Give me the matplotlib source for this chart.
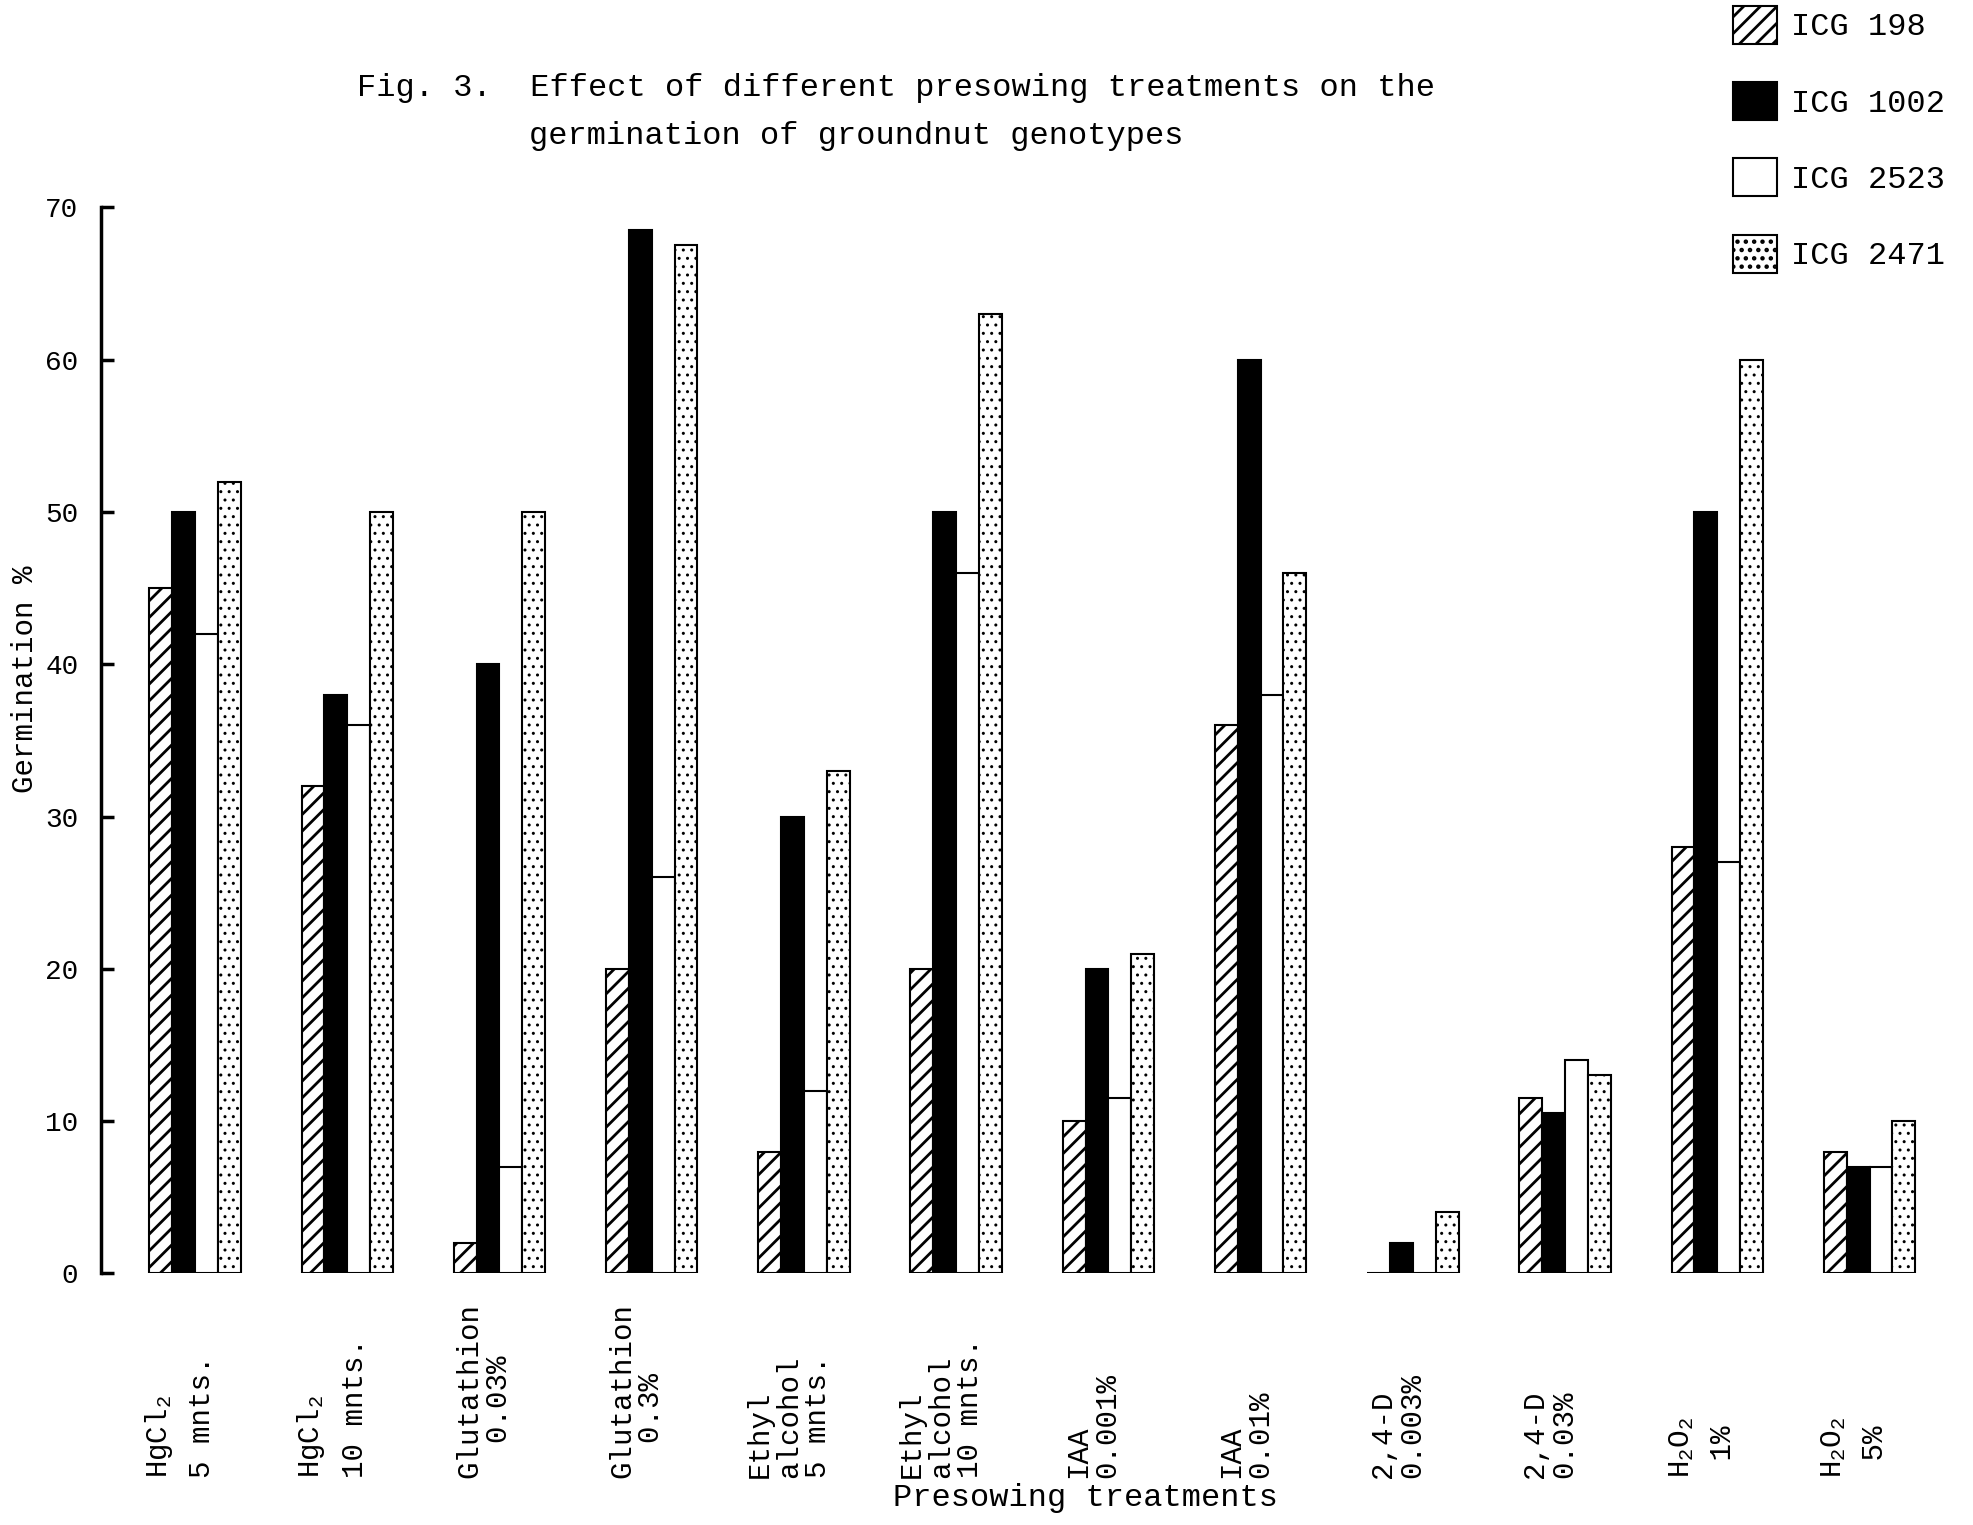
import numpy as np
import matplotlib
matplotlib.use("Agg")
from matplotlib import pyplot as plt
import matplotlib.transforms as mtransforms

plt.rcParams['font.family'] = ['Liberation Mono', 'DejaVu Sans Mono']
plt.rcParams['mathtext.fontset'] = 'custom'
plt.rcParams['mathtext.rm'] = 'Liberation Mono'
plt.rcParams['mathtext.it'] = 'Liberation Mono'
plt.rcParams['mathtext.default'] = 'regular'
plt.rcParams['hatch.linewidth'] = 2.0

# presowing treatments (x labels, as typed under the bars)
treatments = [
    "HgCl$_2$\n5 mnts.",
    "HgCl$_2$\n10 mnts.",
    "Glutathion\n  0.03%",
    "Glutathion\n  0.3%",
    "Ethyl\nalcohol\n5 mnts.",
    "Ethyl\nalcohol\n10 mnts.",
    "IAA\n0.001%",
    "IAA\n0.01%",
    "2,4-D\n0.003%",
    "2,4-D\n0.03%",
    "H$_2$O$_2$\n 1%",
    "H$_2$O$_2$\n 5%",
]

# germination % per genotype
icg198 = [45, 32, 2, 20, 8, 20, 10, 36, 0, 11.5, 28, 8]
icg1002 = [50, 38, 40, 68.5, 30, 50, 20, 60, 2, 10.5, 50, 7]
icg2523 = [42, 36, 7, 26, 12, 46, 11.5, 38, 0, 14, 27, 7]
icg2471 = [52, 50, 50, 67.5, 33, 63, 21, 46, 4, 13, 60, 10]

genotypes = ["ICG 198", "ICG 1002", "ICG 2523", "ICG 2471"]

fig = plt.figure(figsize=(19.73, 15.25), dpi=100)
ax = fig.add_axes([0.051, 0.165, 0.939, 0.699])

x = np.arange(len(treatments))
w = 0.15
ax.bar(x - 1.5 * w, icg198, w, color="white", edgecolor="black", hatch="//", lw=1.5, label=genotypes[0])
ax.bar(x - 0.5 * w, icg1002, w, color="black", edgecolor="black", lw=1.5, label=genotypes[1])
ax.bar(x + 0.5 * w, icg2523, w, color="white", edgecolor="black", lw=1.5, label=genotypes[2])
dots = ax.bar(x + 1.5 * w, icg2471, w, color="white", edgecolor="black", hatch="..", lw=1.5, label=genotypes[3])
for p in dots:
    p.set_hatch_linewidth(1.0)

ax.set_xlim(-0.62, 11.55)
ax.set_ylim(0, 70)
ax.set_yticks(range(0, 71, 10))
ax.set_xticks([])
ax.tick_params(axis="y", direction="in", length=9, width=2.5, pad=16, labelsize=20)
for s in ["top", "right", "bottom"]:
    ax.spines[s].set_visible(False)
ax.spines["left"].set_linewidth(2.5)

# treatment labels, rotated, all starting at the same baseline
trans = mtransforms.blended_transform_factory(ax.transData, fig.transFigure)
for i, lab in enumerate(treatments):
    ls = 1.6 if "$" in lab else 1.05
    ax.text(i - 0.1, 0.031, lab, transform=trans, rotation=90, ha="center", va="bottom",
            multialignment="left", linespacing=ls, fontsize=21)

fig.text(0.55, 0.008, "Presowing treatments", ha="center", va="bottom", fontsize=23)
ax.set_ylabel("Germination %", fontsize=21, labelpad=14)
ax.yaxis.set_label_coords(-0.033, 0.557)

fig.text(0.181, 0.942, "Fig. 3.  Effect of different presowing treatments on the",
         ha="left", va="center", fontsize=23)
fig.text(0.268, 0.911, "germination of groundnut genotypes", ha="left", va="center", fontsize=23)

fig.legend(loc="upper left", bbox_to_anchor=(0.864, 1.015), frameon=False, fontsize=23,
           handlelength=1.35, handleheight=1.45, labelspacing=1.2, handletextpad=0.45)

fig.savefig("out.png", dpi=100)
